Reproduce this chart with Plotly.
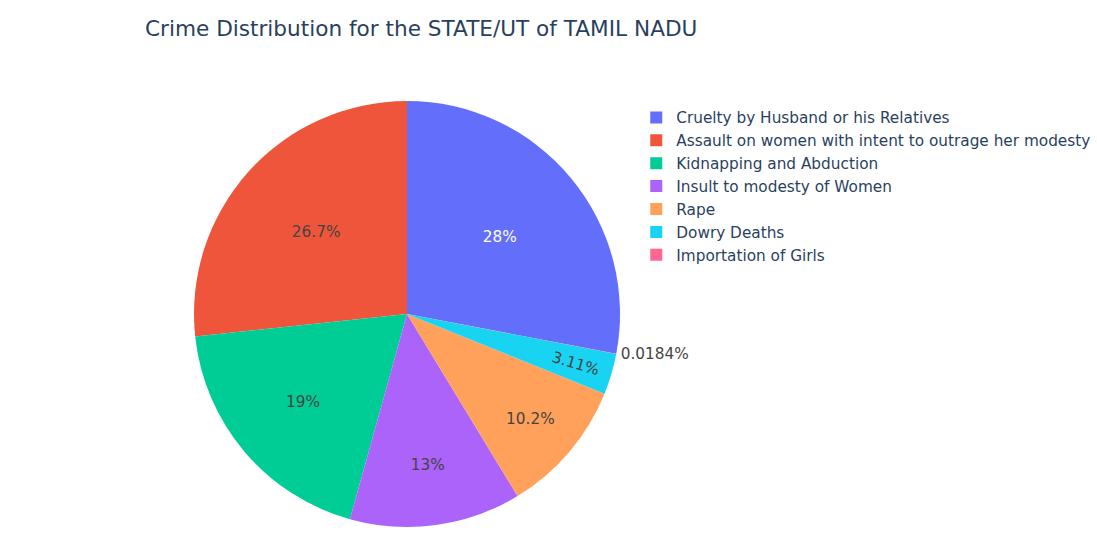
import plotly.graph_objects as go

crime_types = [
    "Cruelty by Husband or his Relatives",
    "Assault on women with intent to outrage her modesty",
    "Kidnapping and Abduction",
    "Insult to modesty of Women",
    "Rape",
    "Dowry Deaths",
    "Importation of Girls",
]
case_counts = [15217, 14511, 10330, 7070, 5550, 1690, 10]
slice_colors = ["#636efa", "#EF553B", "#00cc96", "#ab63fa", "#FFA15A", "#19d3f3", "#FF6692"]

W, H = 1097, 537
cx, cy, r = 407, 314, 213

fig = go.Figure(go.Pie(
    labels=crime_types,
    values=case_counts,
    marker=dict(colors=slice_colors),
    textinfo="percent",
    domain=dict(x=[(cx - r) / W, (cx + r) / W], y=[1 - (cy + r) / H, 1 - (cy - r) / H]),
))

fig.update_layout(
    width=W, height=H,
    margin=dict(l=0, r=0, t=0, b=0),
    font=dict(family="Verdana, DejaVu Sans, sans-serif", size=15.3, color="#444"),
    title=dict(text="Crime Distribution for the STATE/UT of TAMIL NADU",
               x=145 / W, xanchor="left", xref="container",
               y=1 - 28 / H, yanchor="middle", yref="container",
               font=dict(size=21.6, color="#2a3f5f")),
    legend=dict(x=0.58, xanchor="left", y=1 - 101 / H, yanchor="top",
                font=dict(color="#2a3f5f")),
    paper_bgcolor="white",
)

fig.write_html("out.html")
